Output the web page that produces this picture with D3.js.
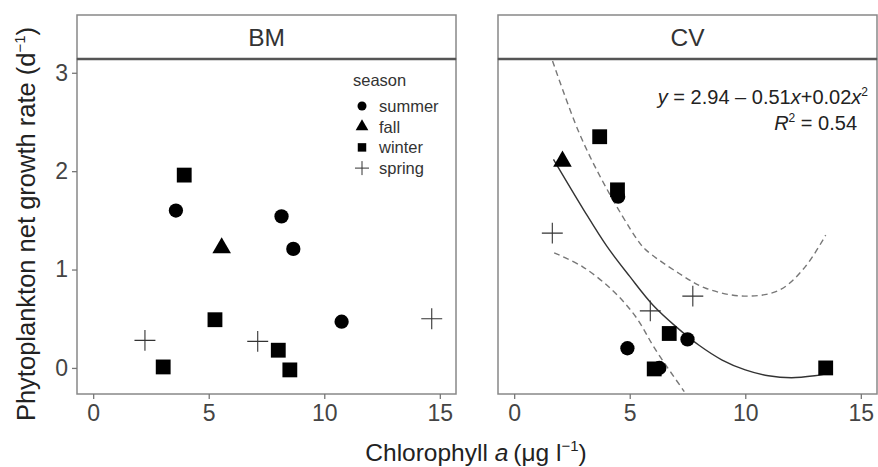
<!DOCTYPE html>
<html>
<head>
<meta charset="utf-8">
<script src="https://cdn.jsdelivr.net/npm/d3@7"></script>
<style>
  body { margin: 0; background: #fff; }
  text { font-family: "Liberation Sans", Arial, sans-serif; }
</style>
</head>
<body>
<div id="chart-area"></div>
<script>
// data
var seasons = ["summer", "fall", "winter", "spring"];
var sites = ["BM", "CV"];

var bmX      = [3.58, 8.15, 8.66, 10.75, 5.56, 3.94, 5.27, 3.03, 8.01, 8.51, 2.24, 7.12, 14.65];
var bmY      = [1.60, 1.54, 1.21, 0.47, 1.22, 1.96, 0.49, 0.01, 0.18, -0.02, 0.28, 0.27, 0.50];
var bmSeason = ["summer","summer","summer","summer","fall","winter","winter","winter","winter","winter","spring","spring","spring"];

var cvX      = [4.50, 4.90, 6.28, 7.50, 2.09, 3.70, 4.47, 6.06, 6.71, 13.48, 1.65, 5.89, 7.73];
var cvY      = [1.74, 0.20, 0.00, 0.29, 2.10, 2.35, 1.81, -0.01, 0.35, 0.00, 1.37, 0.58, 0.73];
var cvSeason = ["summer","summer","summer","summer","fall","winter","winter","winter","winter","winter","spring","spring","spring"];

// fitted curve and band (CV)
var fitX   = [1.7, 3, 4, 5, 6, 7, 8, 9, 10, 11, 12, 13, 13.5];
var fitY   = [2.12, 1.61, 1.24, 0.93, 0.64, 0.42, 0.23, 0.08, -0.02, -0.08, -0.10, -0.08, -0.06];
var upX    = [1.66, 2.81, 3.96, 5.34, 5.70, 7.14, 8.29, 9.95, 11.47, 12.6, 13.48];
var upY    = [3.12, 2.39, 1.84, 1.30, 1.20, 0.96, 0.81, 0.73, 0.79, 1.03, 1.35];
var loX    = [1.73, 2.95, 4.25, 5.26, 6.13, 7.36];
var loY    = [1.17, 1.03, 0.79, 0.52, 0.18, -0.24];

var xTicks = [0, 5, 10, 15];
var yTicks = [0, 1, 2, 3];

var width = 878, height = 467;
var topY = 15, stripH = 44, bottomY = 394;
var panels = [{x0: 77, x1: 456}, {x0: 498, x1: 877}];

var svg = d3.select("#chart-area").append("svg")
    .attr("width", width)
    .attr("height", height);

var y = d3.scaleLinear().domain([-0.265, 3.14]).range([bottomY, topY + stripH]);

var symType = {summer: d3.symbolCircle, fall: d3.symbolTriangle, winter: d3.symbolSquare, spring: d3.symbolPlus};
var symSize = {summer: 160, fall: 150, winter: 220, spring: 145};
var legSize = {summer: 64, fall: 70, winter: 72, spring: 66};

function drawPoints(g, x, xs, ys, ss) {
  var pts = xs.map((d, i) => ({x: d, y: ys[i], s: ss[i]}));
  g.selectAll("path.pt").data(pts).enter().append("path")
    .attr("class", "pt")
    .attr("transform", d => "translate(" + x(d.x) + "," + y(d.y) + ")")
    .attr("d", d => d3.symbol().type(symType[d.s]).size(symSize[d.s])())
    .attr("fill", d => d.s == "spring" ? "none" : "#000")
    .attr("stroke", d => d.s == "spring" ? "#333" : "none")
    .attr("stroke-width", 1.1);
}

var xs = [];
sites.forEach((site, k) => {
  var p = panels[k];
  var x = d3.scaleLinear().domain([-0.7, 15.7]).range([p.x0, p.x1]);
  xs.push(x);
  var g = svg.append("g");

  svg.append("clipPath").attr("id", "clip" + k).append("rect")
    .attr("x", p.x0).attr("y", topY + stripH).attr("width", p.x1 - p.x0).attr("height", bottomY - topY - stripH);

  // strip
  g.append("rect")
    .attr("x", p.x0).attr("y", topY).attr("width", p.x1 - p.x0).attr("height", stripH)
    .attr("fill", "#fff").attr("stroke", "#888").attr("stroke-width", 1.5);
  g.append("text")
    .attr("x", (p.x0 + p.x1) / 2).attr("y", topY + stripH / 2 + 9)
    .attr("text-anchor", "middle").style("font-size", "24.5px").attr("fill", "#333")
    .text(site);

  // panel border
  g.append("rect")
    .attr("x", p.x0).attr("y", topY + stripH).attr("width", p.x1 - p.x0).attr("height", bottomY - topY - stripH)
    .attr("fill", "none").attr("stroke", "#888").attr("stroke-width", 1.5);
  g.append("line")
    .attr("x1", p.x0).attr("x2", p.x1).attr("y1", topY + stripH).attr("y2", topY + stripH)
    .attr("stroke", "#555").attr("stroke-width", 2.5);

  // x axis
  var xa = g.append("g").attr("transform", "translate(0," + bottomY + ")")
    .call(d3.axisBottom(x).tickValues(xTicks).tickSize(5).tickPadding(6));
  xa.select(".domain").remove();
  xa.selectAll("line").attr("stroke", "#777").attr("stroke-width", 1.3);
  xa.selectAll("text").style("font-size", "23px").attr("fill", "#444")
    .style("font-family", "'Liberation Sans', Arial, sans-serif");
});

// y axis (left panel only)
var ya = svg.append("g").attr("transform", "translate(" + panels[0].x0 + ",0)")
  .call(d3.axisLeft(y).tickValues(yTicks).tickFormat(d3.format("d")).tickSize(5).tickPadding(4));
ya.select(".domain").remove();
ya.selectAll("line").attr("stroke", "#777").attr("stroke-width", 1.3);
ya.selectAll("text").style("font-size", "23px").attr("fill", "#444")
  .style("font-family", "'Liberation Sans', Arial, sans-serif");

// curves in CV
var xcv = xs[1];
var line = d3.line().x(d => xcv(d[0])).y(d => y(d[1])).curve(d3.curveCatmullRom);
var cg = svg.append("g").attr("clip-path", "url(#clip1)");
cg.append("path").datum(d3.zip(upX, upY)).attr("d", line)
  .attr("fill", "none").attr("stroke", "#777").attr("stroke-width", 1.4).attr("stroke-dasharray", "6,4");
cg.append("path").datum(d3.zip(loX, loY)).attr("d", line)
  .attr("fill", "none").attr("stroke", "#777").attr("stroke-width", 1.4).attr("stroke-dasharray", "6,4");
cg.append("path").datum(d3.zip(fitX, fitY)).attr("d", line)
  .attr("fill", "none").attr("stroke", "#333").attr("stroke-width", 1.4);

drawPoints(svg.append("g"), xs[0], bmX, bmY, bmSeason);
drawPoints(svg.append("g"), xs[1], cvX, cvY, cvSeason);

// equation
var eq = svg.append("text").attr("x", 868).attr("y", 104).attr("text-anchor", "end")
  .style("font-size", "20px").attr("fill", "#222");
eq.append("tspan").style("font-style", "italic").text("y");
eq.append("tspan").text(" = 2.94 \u2013 0.51");
eq.append("tspan").style("font-style", "italic").text("x");
eq.append("tspan").text("+0.02");
eq.append("tspan").style("font-style", "italic").text("x");
eq.append("tspan").attr("dy", -8).style("font-size", "12px").text("2");

var r2 = svg.append("text").attr("x", 857).attr("y", 130).attr("text-anchor", "end")
  .style("font-size", "20px").attr("fill", "#222");
r2.append("tspan").style("font-style", "italic").text("R");
r2.append("tspan").attr("dy", -8).style("font-size", "12px").text("2");
r2.append("tspan").attr("dy", 8).text(" = 0.54");

// legend
var lg = svg.append("g").attr("transform", "translate(353,0)");
lg.append("text").attr("x", 0).attr("y", 86).style("font-size", "16.5px").attr("fill", "#333").text("season");
seasons.forEach((s, i) => {
  var yy = 106 + i * 20.7;
  lg.append("path").attr("transform", "translate(9," + yy + ")")
    .attr("d", d3.symbol().type(symType[s]).size(legSize[s])())
    .attr("fill", s == "spring" ? "none" : "#000")
    .attr("stroke", s == "spring" ? "#333" : "none").attr("stroke-width", 1);
  lg.append("text").attr("x", 26).attr("y", yy + 6).style("font-size", "16.5px").attr("fill", "#333").text(s);
});

// axis titles
svg.append("text")
  .attr("transform", "translate(35,224) rotate(-90)")
  .attr("text-anchor", "middle").style("font-size", "25.5px").attr("fill", "#222")
  .call(t => {
    t.append("tspan").text("Phytoplankton net growth rate (d");
    t.append("tspan").attr("dy", -10).style("font-size", "15px").text("\u22121");
    t.append("tspan").attr("dy", 10).text(")");
  });

svg.append("text")
  .attr("x", 476).attr("y", 461).attr("text-anchor", "middle")
  .style("font-size", "24.5px").attr("fill", "#222")
  .call(t => {
    t.append("tspan").text("Chlorophyll ");
    t.append("tspan").style("font-style", "italic").text("a");
    t.append("tspan").text("\u2009(\u03bcg l");
    t.append("tspan").attr("dy", -10).style("font-size", "15px").text("\u22121");
    t.append("tspan").attr("dy", 10).text(")");
  });
</script>
</body>
</html>
